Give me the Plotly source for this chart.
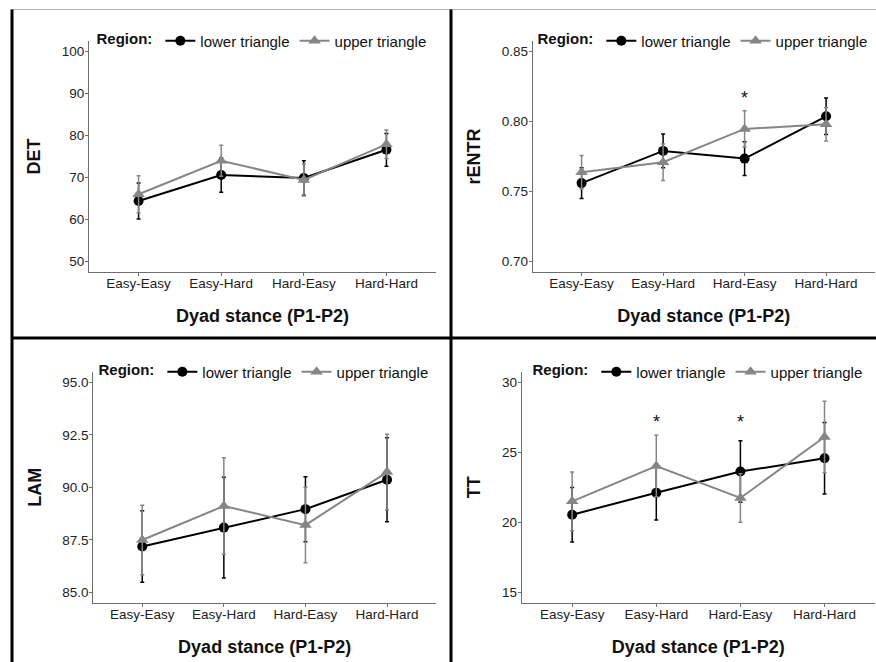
import plotly.graph_objects as go

categories = ["Easy-Easy", "Easy-Hard", "Hard-Easy", "Hard-Hard"]

det_lower = [64.4, 70.6, 69.9, 76.6]
det_lower_se = [4.3, 4.1, 4.1, 3.9]
det_upper = [66.0, 74.0, 69.4, 77.9]
det_upper_se = [4.4, 3.7, 3.8, 3.4]

rentr_lower = [0.756, 0.779, 0.7735, 0.8037]
rentr_lower_se = [0.011, 0.012, 0.012, 0.013]
rentr_upper = [0.7638, 0.7709, 0.7947, 0.798]
rentr_upper_se = [0.012, 0.013, 0.013, 0.012]

lam_lower = [87.18, 88.08, 88.96, 90.36]
lam_lower_se = [1.7, 2.4, 1.55, 2.0]
lam_upper = [87.49, 89.11, 88.2, 90.73]
lam_upper_se = [1.66, 2.3, 1.8, 1.8]

tt_lower = [20.54, 22.12, 23.63, 24.58]
tt_lower_se = [1.95, 1.95, 2.2, 2.55]
tt_upper = [21.5, 24.03, 21.74, 26.1]
tt_upper_se = [2.1, 2.2, 1.73, 2.55]

rentr_star_cats = ["Hard-Easy"]
rentr_star_y = [0.817]
tt_star_cats = ["Easy-Hard", "Hard-Easy"]
tt_star_y = [27.15, 27.15]

W, H = 876, 662
BLACK = "#000000"
GRAY = "#868686"
FONT = "Liberation Sans, Arial, sans-serif"

def px_x(p):
    return p / W

def px_y(p):
    return 1 - p / H

panels = [
    dict(name="DET", lower=det_lower, lse=det_lower_se, upper=det_upper, use=det_upper_se,
         xdom=(89, 436), ydom=(41, 272), rng=[47.5, 102.5], tickvals=[50, 60, 70, 80, 90, 100],
         fmt="d", legend_xy=(263, 41)),
    dict(name="rENTR", lower=rentr_lower, lse=rentr_lower_se, upper=rentr_upper, use=rentr_upper_se,
         xdom=(532.7, 875), ydom=(41, 272), rng=[0.6925, 0.8575], tickvals=[0.70, 0.75, 0.80, 0.85],
         fmt=".2f", legend_xy=(704, 41)),
    dict(name="LAM", lower=lam_lower, lse=lam_lower_se, upper=lam_upper, use=lam_upper_se,
         xdom=(93.3, 436), ydom=(372, 602.7), rng=[84.5, 95.5], tickvals=[85, 87.5, 90, 92.5, 95],
         fmt=".1f", legend_xy=(265, 372)),
    dict(name="TT", lower=tt_lower, lse=tt_lower_se, upper=tt_upper, use=tt_upper_se,
         xdom=(521.7, 875), ydom=(372, 602.7), rng=[14.25, 30.75], tickvals=[15, 20, 25, 30],
         fmt="d", legend_xy=(699, 372)),
]

fig = go.Figure()
layout = dict(
    width=W, height=H,
    margin=dict(l=0, r=0, t=0, b=0),
    paper_bgcolor="white", plot_bgcolor="white",
    font=dict(family=FONT, color="#1a1a1a"),
    showlegend=True,
)

annotations = []
for i, p in enumerate(panels):
    n = i + 1
    xa = "x" if n == 1 else f"x{n}"
    ya = "y" if n == 1 else f"y{n}"
    lg = "legend" if n == 1 else f"legend{n}"
    fig.add_trace(go.Scatter(
        x=categories, y=p["lower"], xaxis=xa, yaxis=ya, legend=lg,
        name="lower triangle", mode="lines+markers",
        line=dict(color=BLACK, width=2),
        marker=dict(symbol="circle", size=10, color=BLACK),
        error_y=dict(type="data", array=p["lse"], color=BLACK, thickness=1.5, width=2),
    ))
    fig.add_trace(go.Scatter(
        x=categories, y=p["upper"], xaxis=xa, yaxis=ya, legend=lg,
        name="upper triangle", mode="lines+markers",
        line=dict(color=GRAY, width=2),
        marker=dict(symbol="triangle-up", size=11, color=GRAY),
        error_y=dict(type="data", array=p["use"], color=GRAY, thickness=1.5, width=2),
    ))
    xkey = "xaxis" if n == 1 else f"xaxis{n}"
    ykey = "yaxis" if n == 1 else f"yaxis{n}"
    layout[xkey] = dict(
        domain=[px_x(p["xdom"][0]), px_x(p["xdom"][1])], anchor=ya,
        type="category", categoryorder="array", categoryarray=categories,
        range=[-0.6, 3.6], showline=True, linecolor="#6e6e6e", linewidth=1,
        ticks="outside", ticklen=3, tickcolor="#6e6e6e", showgrid=False, zeroline=False,
        ticklabelstandoff=-4,
        tickfont=dict(size=13.5, color="#222222", family=FONT),
        title=dict(text="<b>Dyad stance (P1-P2)</b>", font=dict(size=18, color="#111111", family=FONT), standoff=19),
    )
    layout[ykey] = dict(
        domain=[px_y(p["ydom"][1]), px_y(p["ydom"][0])], anchor=xa,
        range=p["rng"], tickvals=p["tickvals"], tickformat=p["fmt"],
        showline=True, linecolor="#6e6e6e", linewidth=1,
        ticks="outside", ticklen=3, tickcolor="#6e6e6e", showgrid=False, zeroline=False,
        ticklabelstandoff=-2,
        tickfont=dict(size=13.5, color="#222222", family=FONT),
        title=dict(text=f"<b>{p['name']}</b>", font=dict(size=18, color="#111111", family=FONT), standoff=16),
    )
    layout[lg] = dict(
        x=px_x(p["legend_xy"][0]), y=px_y(p["legend_xy"][1]), xanchor="center", yanchor="middle",
        orientation="h", bgcolor="rgba(0,0,0,0)",
        title=dict(text="<b>Region:</b>", side="left", font=dict(size=15, family=FONT, color="#111111")),
        font=dict(size=15, family=FONT, color="#111111"),
        itemwidth=30, tracegroupgap=0,
    )

for c, yv in zip(rentr_star_cats, rentr_star_y):
    annotations.append(dict(x=c, y=yv, xref="x2", yref="y2", text="*", showarrow=False,
                            font=dict(size=18, family=FONT, color="#111111"), yanchor="middle"))
for c, yv in zip(tt_star_cats, tt_star_y):
    annotations.append(dict(x=c, y=yv, xref="x4", yref="y4", text="*", showarrow=False,
                            font=dict(size=18, family=FONT, color="#111111"), yanchor="middle"))

shapes = [
    dict(type="line", xref="paper", yref="paper", x0=px_x(11), x1=1, y0=px_y(9.5), y1=px_y(9.5),
         line=dict(color="#b0b0b0", width=1)),
    dict(type="line", xref="paper", yref="paper", x0=px_x(12), x1=px_x(12), y0=0, y1=px_y(9.5),
         line=dict(color="#000000", width=3)),
    dict(type="line", xref="paper", yref="paper", x0=px_x(451), x1=px_x(451), y0=0, y1=px_y(9.5),
         line=dict(color="#000000", width=3)),
    dict(type="line", xref="paper", yref="paper", x0=px_x(12), x1=1, y0=px_y(338), y1=px_y(338),
         line=dict(color="#000000", width=3)),
]

layout["annotations"] = annotations
layout["shapes"] = shapes
fig.update_layout(**layout)
fig.write_html(
    "out.html",
    config={"displayModeBar": False},
    post_script="document.body.style.margin='0px';document.body.style.overflow='hidden';",
)
